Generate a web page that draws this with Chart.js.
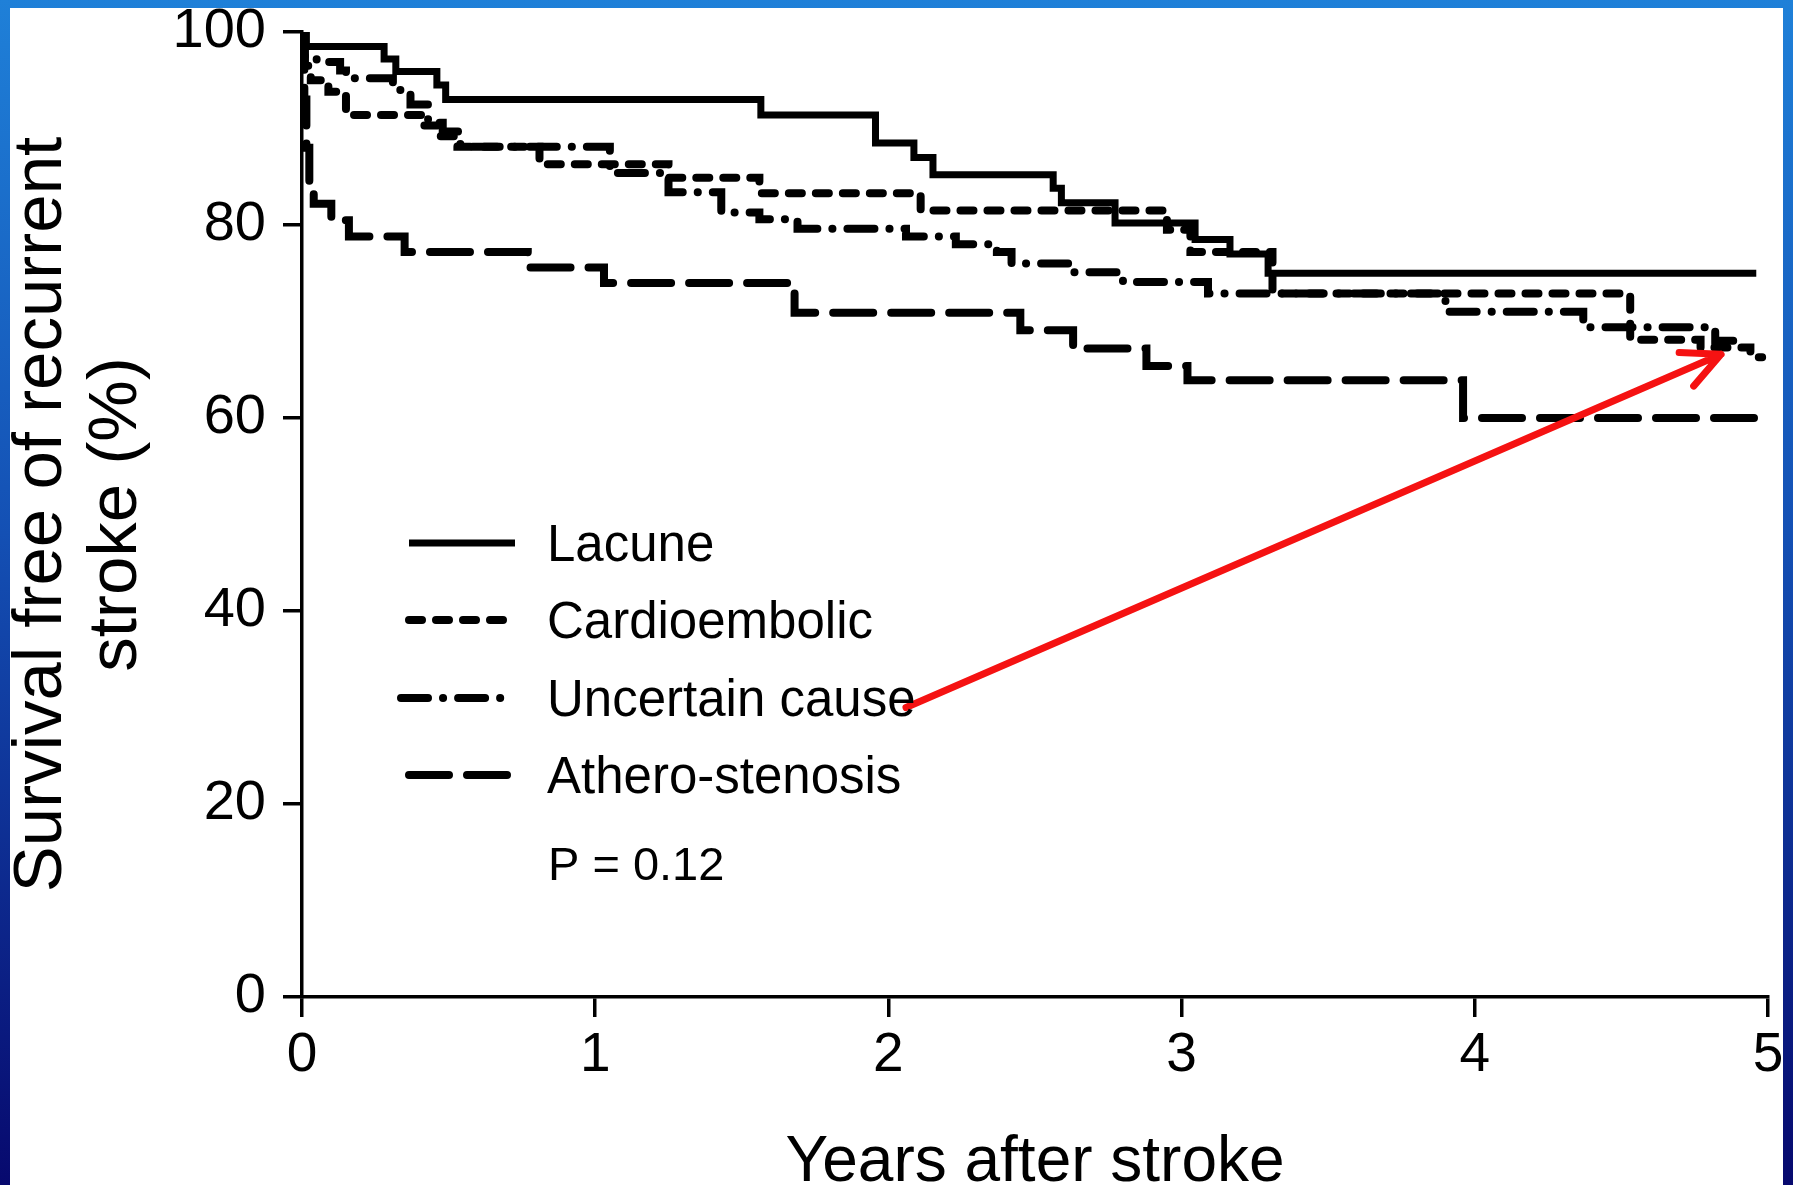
<!DOCTYPE html>
<html>
<head>
<meta charset="utf-8">
<title>Survival free of recurrent stroke</title>
<script src="https://cdn.jsdelivr.net/npm/chart.js@4/dist/chart.umd.min.js"></script>
<style>
  html, body { margin: 0; padding: 0; }
  body {
    width: 1793px; height: 1185px; overflow: hidden;
    background: linear-gradient(180deg, #1f80d8 0%, #1450b4 45%, #07096e 100%);
    position: relative;
  }
  #frame {
    position: absolute; left: 10px; top: 8px;
    width: 1773px; height: 1177px; background: #fff;
  }
  canvas { display: block; }
</style>
</head>
<body>
<div id="frame"><canvas id="km" width="1773" height="1177"></canvas></div>
<script>
/* ---- data (years, % free of recurrent stroke) ---- */
const seriesNames = ['Lacune', 'Cardioembolic', 'Uncertain cause', 'Athero-stenosis'];

const lacuneT = [0, 0.015, 0.28, 0.32, 0.46, 0.49, 1.565, 1.956, 2.087, 2.152, 2.562, 2.59, 2.773, 3.046, 3.165, 3.295, 4.96];
const lacuneS = [100, 98.5, 97.2, 95.9, 94.5, 93.0, 91.4, 88.5, 87.0, 85.2, 83.8, 82.3, 80.2, 78.5, 77.0, 75.0, 75.0];

const cardioT = [0, 0.01, 0.03, 0.09, 0.15, 0.41, 0.47, 0.53, 0.81, 1.25, 1.56, 2.11, 2.95, 3.03, 3.31, 4.53, 4.77, 4.94, 4.98];
const cardioS = [100, 96.5, 95.0, 93.8, 91.4, 90.3, 89.2, 88.1, 86.3, 84.9, 83.3, 81.5, 79.5, 77.2, 72.9, 68.1, 67.3, 66.3, 66.3];

const uncertT = [0, 0.01, 0.05, 0.13, 0.15, 0.31, 0.37, 0.43, 0.48, 0.54, 1.05, 1.25, 1.43, 1.56, 1.69, 2.06, 2.23, 2.37, 2.42, 2.62, 2.8, 3.09, 3.9, 4.37, 4.82, 4.93];
const uncertS = [100, 97.5, 96.9, 96.0, 95.2, 94.0, 92.5, 90.6, 89.7, 88.1, 85.4, 83.4, 81.3, 80.6, 79.6, 78.8, 78.0, 77.2, 76.0, 75.1, 74.1, 72.9, 71.0, 69.4, 68.0, 68.0];

const atheroT = [0, 0.008, 0.015, 0.025, 0.04, 0.1, 0.16, 0.35, 0.77, 1.03, 1.68, 2.45, 2.63, 2.88, 3.02, 3.96, 5.0];
const atheroS = [100, 93, 88, 84.5, 82.2, 80.5, 78.8, 77.2, 75.6, 74.0, 70.9, 69.1, 67.2, 65.4, 63.9, 60.0, 60.0];

const xTicks = [0, 1, 2, 3, 4, 5];
const yTicks = [0, 20, 40, 60, 80, 100];
const pValueText = 'P = 0.12';

// red arrow, in data units: from the legend text towards the curves
const arrowFrom = [2.06, 30.0];
const arrowTo = [4.84, 66.6];

/* ---- helpers ---- */
const FONT = "'Liberation Sans', Arial, Helvetica, sans-serif";
const toPoints = (ts, ss) => ts.map((t, i) => ({ x: t, y: ss[i] }));

const styles = [
  { borderWidth: 7, borderDash: [], borderCapStyle: 'butt' },
  { borderWidth: 8, borderDash: [13, 14], borderCapStyle: 'round' },
  { borderWidth: 8, borderDash: [27, 15, 0.1, 15], borderCapStyle: 'round' },
  { borderWidth: 8, borderDash: [40, 18], borderCapStyle: 'round' }
];

const allData = [
  toPoints(lacuneT, lacuneS),
  toPoints(cardioT, cardioS),
  toPoints(uncertT, uncertS),
  toPoints(atheroT, atheroS)
];

const datasets = seriesNames.map((name, i) => ({
  label: name,
  data: allData[i],
  stepped: 'before',
  borderColor: '#000',
  borderJoinStyle: 'miter',
  pointRadius: 0,
  fill: false,
  ...styles[i]
}));

/* legend drawn inside the plot, plus the p-value */
const insideLegend = {
  id: 'insideLegend',
  afterDraw(chart) {
    const { ctx, chartArea } = chart;
    const x0 = chartArea.left + 107, x1 = chartArea.left + 213, tx = chartArea.left + 245;
    const rows = [511, 588, 666, 743];
    ctx.save();
    ctx.font = '51px ' + FONT;
    ctx.fillStyle = '#000';
    ctx.textBaseline = 'alphabetic';
    chart.data.datasets.forEach((ds, i) => {
      const y = chartArea.top + rows[i];
      ctx.beginPath();
      ctx.strokeStyle = '#000';
      ctx.lineWidth = ds.borderWidth;
      ctx.lineCap = ds.borderCapStyle;
      ctx.setLineDash(ds.borderDash);
      ctx.moveTo(i === 2 ? x0 - 8 : x0, y);
      ctx.lineTo(i === 2 ? x1 - 12 : x1, y);
      ctx.stroke();
      ctx.fillText(ds.label, tx, y + 18);
    });
    ctx.setLineDash([]);
    ctx.font = '47px ' + FONT;
    ctx.fillText(pValueText, tx + 1, chartArea.top + 848);
    ctx.restore();
  }
};

/* red arrow annotation */
const arrow = {
  id: 'arrow',
  afterDatasetsDraw(chart) {
    const { ctx, scales } = chart;
    const ax = scales.x.getPixelForValue(arrowFrom[0]);
    const ay = scales.y.getPixelForValue(arrowFrom[1]);
    const bx = scales.x.getPixelForValue(arrowTo[0]);
    const by = scales.y.getPixelForValue(arrowTo[1]);
    const ang = Math.atan2(by - ay, bx - ax);
    const len = 42, spread = 0.45;
    ctx.save();
    ctx.strokeStyle = '#f51212';
    ctx.lineWidth = 7;
    ctx.lineCap = 'round';
    ctx.lineJoin = 'round';
    ctx.beginPath();
    ctx.moveTo(ax, ay);
    ctx.lineTo(bx, by);
    ctx.moveTo(bx - len * Math.cos(ang - spread), by - len * Math.sin(ang - spread));
    ctx.lineTo(bx, by);
    ctx.lineTo(bx - len * Math.cos(ang + spread), by - len * Math.sin(ang + spread));
    ctx.stroke();
    ctx.restore();
  }
};

new Chart(document.getElementById('km'), {
  type: 'line',
  data: { datasets },
  options: {
    responsive: false,
    devicePixelRatio: 1,
    animation: false,
    layout: { padding: { top: 24, right: 15, left: 0, bottom: 0 } },
    plugins: { legend: { display: false }, tooltip: { enabled: false } },
    scales: {
      x: {
        type: 'linear', min: 0, max: 5,
        afterBuildTicks: s => { s.ticks = xTicks.map(v => ({ value: v })); },
        afterFit: s => { s.height = 188; s.paddingLeft = 0; s.paddingRight = 0; },
        ticks: { color: '#000', padding: 14, font: { family: FONT, size: 55, lineHeight: 0.9 } },
        grid: { drawOnChartArea: false, drawTicks: true, tickLength: 20, color: '#000', lineWidth: 3.5 },
        border: { display: true, color: '#000', width: 3.5 },
        title: {
          display: true, text: 'Years after stroke', color: '#000',
          font: { family: FONT, size: 64, lineHeight: 0.8 }, padding: { top: 0, bottom: -4 }
        }
      },
      y: {
        type: 'linear', min: 0, max: 100,
        afterBuildTicks: s => { s.ticks = yTicks.map(v => ({ value: v })); },
        afterFit: s => { s.width = 292; s.paddingTop = 0; s.paddingBottom = 0; },
        ticks: { color: '#000', padding: 17, font: { family: FONT, size: 56, lineHeight: 0.9 } },
        grid: { drawOnChartArea: false, drawTicks: true, tickLength: 19, color: '#000', lineWidth: 3.5 },
        border: { display: true, color: '#000', width: 3.5 },
        title: {
          display: true, text: ['Survival free of recurrent', 'stroke (%)'], color: '#000',
          font: { family: FONT, size: 69, lineHeight: 1.08 }, padding: { top: -5, bottom: 0 }
        }
      }
    }
  },
  plugins: [insideLegend, arrow]
});
</script>
</body>
</html>
